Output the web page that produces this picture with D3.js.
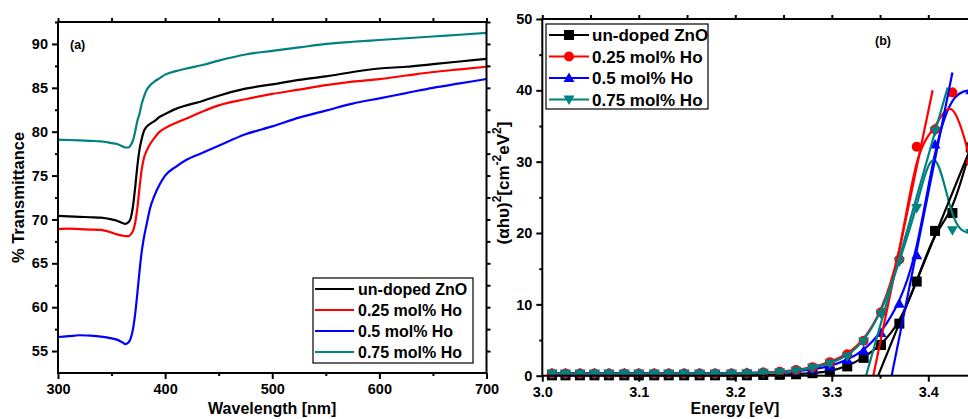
<!DOCTYPE html>
<html>
<head>
<meta charset="utf-8">
<script src="https://cdn.jsdelivr.net/npm/d3@7"></script>
<style>
  html, body { margin: 0; padding: 0; background: #fff; overflow: hidden; }
  svg { display: block; font-family: "Liberation Sans", Arial, sans-serif; font-weight: bold; }
</style>
</head>
<body>
<svg id="chart" width="968" height="419"></svg>
<script>
// ---------- Series names and colours ----------
const seriesNames = ["un-doped ZnO", "0.25 mol% Ho", "0.5 mol% Ho", "0.75 mol% Ho"];
const seriesColors = ["#000000", "#ff0000", "#0000ff", "#008080"];
const markerShapes = ["square", "circle", "triangle-up", "triangle-down"];

// ---------- Panel (a): transmittance spectra ----------
const wavelengths = [300, 310, 320, 330, 340, 350, 355, 360, 363, 366, 368, 370, 372, 374, 376, 378, 380, 383, 386, 390,
                     395, 400, 410, 420, 435, 450, 475, 500, 525, 550, 575, 600, 625, 650, 675, 700];
const transUndoped = [70.4, 70.35, 70.3, 70.25, 70.2, 70.0, 69.85, 69.6, 69.5, 69.7, 70.2, 71.5, 73.6, 76.0, 77.9, 79.1, 80.0, 80.6, 80.9, 81.2,
                      81.7, 82.0, 82.6, 83.0, 83.5, 84.1, 84.9, 85.4, 85.9, 86.3, 86.8, 87.2, 87.4, 87.7, 88.0, 88.3];
const trans025 = [68.9, 68.95, 68.9, 68.85, 68.8, 68.5, 68.3, 68.15, 68.1, 68.1, 68.3, 68.7, 69.6, 71.2, 73.5, 75.6, 76.9, 77.9, 78.6, 79.3,
                  80.0, 80.4, 81.0, 81.5, 82.3, 83.0, 83.7, 84.3, 84.8, 85.3, 85.7, 86.0, 86.4, 86.8, 87.1, 87.4];
const trans05 = [56.6, 56.7, 56.8, 56.75, 56.65, 56.45, 56.3, 56.0, 55.8, 56.0, 56.5, 57.5, 59.2, 61.5, 64.0, 66.2, 67.8, 69.6, 71.3, 72.7,
                 74.0, 75.0, 76.0, 76.8, 77.6, 78.4, 79.7, 80.6, 81.6, 82.4, 83.2, 83.8, 84.4, 85.0, 85.5, 86.0];
const trans075 = [79.1, 79.05, 79.0, 78.95, 78.9, 78.7, 78.6, 78.35, 78.2, 78.2, 78.5, 79.0, 80.0, 81.2, 82.0, 83.1, 83.9, 84.8, 85.3, 85.7,
                  86.1, 86.5, 86.9, 87.2, 87.6, 88.1, 88.8, 89.2, 89.6, 90.0, 90.25, 90.45, 90.65, 90.85, 91.05, 91.25];
const wlTicks = [300, 400, 500, 600, 700];
const wlMinor = [350, 450, 550, 650];
const transTicks = [55, 60, 65, 70, 75, 80, 85, 90];
const transMinor = [57.5, 62.5, 67.5, 72.5, 77.5, 82.5, 87.5, 92.5];

// ---------- Panel (b): Tauc plot ----------
const energies = [3.010, 3.024, 3.039, 3.054, 3.069, 3.085, 3.100, 3.116, 3.131, 3.147, 3.163, 3.179, 3.196,
                  3.212, 3.229, 3.246, 3.263, 3.280, 3.298, 3.316, 3.333, 3.351, 3.370, 3.388, 3.407, 3.425, 3.444];
const taucUndoped = [0.05, 0.05, 0.05, 0.05, 0.05, 0.05, 0.05, 0.05, 0.05, 0.05, 0.05, 0.05, 0.05,
                     0.05, 0.1, 0.12, 0.2, 0.35, 0.6, 1.3, 2.5, 4.3, 7.3, 13.2, 20.3, 22.8, 32.0];
const tauc025 = [0.3, 0.3, 0.3, 0.3, 0.3, 0.3, 0.3, 0.3, 0.3, 0.3, 0.3, 0.3, 0.3,
                 0.35, 0.45, 0.55, 0.8, 1.2, 1.9, 3.0, 4.9, 8.9, 16.3, 32.1, 34.5, 39.7, 30.0];
const tauc05 = [0.35, 0.35, 0.35, 0.35, 0.35, 0.35, 0.35, 0.35, 0.35, 0.35, 0.35, 0.35, 0.35,
                0.4, 0.45, 0.5, 0.6, 0.9, 1.3, 2.2, 3.5, 6.0, 10.1, 16.9, 32.4, 39.7, 40.0];
const tauc075 = [0.3, 0.3, 0.3, 0.3, 0.3, 0.3, 0.3, 0.3, 0.3, 0.3, 0.3, 0.3, 0.3,
                 0.35, 0.4, 0.5, 0.7, 1.1, 1.7, 2.7, 4.8, 8.7, 16.0, 23.5, 34.3, 20.4, 20.0];
// Linear fits of the absorption edge: start energy (on the axis) and end point
const fitStartE = [3.348, 3.343, 3.362, 3.3355];
const fitEndE = [3.460, 3.4045, 3.425, 3.420];
const fitEndV = [37.3, 40.0, 42.5, 40.4];
const eTicks = [3.0, 3.1, 3.2, 3.3, 3.4];
const eMinor = [3.05, 3.15, 3.25, 3.35, 3.45];
const taucTicks = [0, 10, 20, 30, 40, 50];
const taucMinor = [5, 15, 25, 35, 45];

const svg = d3.select("#chart");

// Draws a boxed frame with outward ticks on the left/bottom and short inward ticks on the top/right.
function frame(g, x, y, xT, xM, yT, yM, fmtX, fmtY) {
  const [x0, x1] = x.range();
  const [y0, y1] = y.range(); // y0 bottom, y1 top
  const bottom = g.append("g").attr("transform", `translate(0,${y0})`)
    .call(d3.axisBottom(x).tickValues(xT).tickFormat(fmtX).tickSize(6).tickSizeOuter(0).tickPadding(5));
  const bottomMinor = g.append("g").attr("transform", `translate(0,${y0})`)
    .call(d3.axisBottom(x).tickValues(xM).tickFormat("").tickSize(3).tickSizeOuter(0));
  const left = g.append("g").attr("transform", `translate(${x0},0)`)
    .call(d3.axisLeft(y).tickValues(yT).tickFormat(fmtY).tickSize(6).tickSizeOuter(0).tickPadding(4));
  const leftMinor = g.append("g").attr("transform", `translate(${x0},0)`)
    .call(d3.axisLeft(y).tickValues(yM).tickFormat("").tickSize(3).tickSizeOuter(0));
  const top = g.append("g").attr("transform", `translate(0,${y1})`)
    .call(d3.axisTop(x).tickValues(xT.concat(xM)).tickFormat("").tickSize(4).tickSizeOuter(0));
  const right = g.append("g").attr("transform", `translate(${x1},0)`)
    .call(d3.axisRight(y).tickValues(yT.concat(yM)).tickFormat("").tickSize(4).tickSizeOuter(0));
  [bottom, bottomMinor, left, leftMinor, top, right].forEach(a => {
    a.select(".domain").remove();
    a.selectAll(".tick line").attr("stroke", "#000").attr("stroke-width", 2);
    a.selectAll(".tick text").attr("font-size", 14.5).attr("font-weight", "bold")
      .attr("font-family", "'Liberation Sans', Arial, sans-serif").attr("fill", "#000");
  });
  g.append("rect").attr("x", x0).attr("y", y1).attr("width", x1 - x0).attr("height", y0 - y1)
    .attr("fill", "none").attr("stroke", "#000").attr("stroke-width", 2);
}

// ---------- Panel (a) ----------
const xA = d3.scaleLinear().domain([300, 700]).range([58, 486.5]);
const yA = d3.scaleLinear().domain([52.5, 92.5]).range([373, 22]);
const gA = svg.append("g");
const transSeries = [transUndoped, trans025, trans05, trans075];

const lineA = d3.line().x((d, i) => xA(wavelengths[i])).y(d => yA(d)).curve(d3.curveMonotoneX);
transSeries.forEach((s, k) => {
  gA.append("path").datum(s).attr("d", lineA)
    .attr("fill", "none").attr("stroke", seriesColors[k]).attr("stroke-width", 2.2);
});
frame(gA, xA, yA, wlTicks, wlMinor, transTicks, transMinor, d3.format("d"), d3.format("d"));

gA.append("text").attr("x", 70).attr("y", 49).attr("font-size", 12.5).text("(a)");
gA.append("text").attr("x", d3.mean(xA.range())).attr("y", 414).attr("text-anchor", "middle")
  .attr("font-size", 16).text("Wavelength [nm]");
gA.append("text").attr("transform", `translate(24,${d3.mean(yA.range())}) rotate(-90)`)
  .attr("text-anchor", "middle").attr("font-size", 16.5).text("% Transmittance");

// Legend (a)
const legA = gA.append("g").attr("transform", "translate(313,278)");
legA.append("rect").attr("width", 160).attr("height", 85).attr("fill", "#fff")
  .attr("stroke", "#000").attr("stroke-width", 1.2);
seriesNames.forEach((name, k) => {
  const cy = 11 + k * 21;
  legA.append("line").attr("x1", 2).attr("x2", 41).attr("y1", cy).attr("y2", cy)
    .attr("stroke", seriesColors[k]).attr("stroke-width", 2.2);
  legA.append("text").attr("x", 45).attr("y", cy + 5.5).attr("font-size", 16).text(name);
});

// ---------- Panel (b) ----------
const xB = d3.scaleLinear().domain([3.0, 3.5]).range([542.3, 1024.8]);
const yB = d3.scaleLinear().domain([0, 50]).range([375.7, 19]);
const gB = svg.append("g");
const taucSeries = [taucUndoped, tauc025, tauc05, tauc075];
const drawOrder = [0, 2, 1, 3];

function markerPath(shape, size) {
  const h = size / 2;
  if (shape === "square") return `M${-h},${-h}H${h}V${h}H${-h}Z`;
  if (shape === "circle") return d3.symbol(d3.symbolCircle, Math.PI * h * h)();
  if (shape === "triangle-up") return `M0,${-h * 1.1}L${h * 1.1},${h * 0.8}L${-h * 1.1},${h * 0.8}Z`;
  return `M0,${h * 1.1}L${h * 1.1},${-h * 0.8}L${-h * 1.1},${-h * 0.8}Z`;
}

const lineB = d3.line().x((d, i) => xB(energies[i])).y(d => yB(d)).curve(d3.curveBasis);
drawOrder.forEach(k => {
  const s = taucSeries[k];
  const g = gB.append("g");
  g.append("path").datum(s).attr("d", lineB)
    .attr("fill", "none").attr("stroke", seriesColors[k]).attr("stroke-width", 2.2);
  g.selectAll("path.m").data(s).join("path").attr("class", "m")
    .attr("transform", (d, i) => `translate(${xB(energies[i])},${yB(d)})`)
    .attr("d", markerPath(markerShapes[k], 10)).attr("fill", seriesColors[k]);
});
// Linear extrapolations of the absorption edge
fitStartE.forEach((e0, k) => {
  gB.append("line")
    .attr("x1", xB(e0)).attr("y1", yB(0))
    .attr("x2", xB(fitEndE[k])).attr("y2", yB(fitEndV[k]))
    .attr("stroke", seriesColors[k]).attr("stroke-width", 2.2);
});
frame(gB, xB, yB, eTicks, eMinor, taucTicks, taucMinor, d3.format(".1f"), d3.format("d"));

gB.append("text").attr("x", 883).attr("y", 45).attr("text-anchor", "middle").attr("font-size", 12.5).text("(b)");
gB.append("text").attr("x", 735).attr("y", 414).attr("text-anchor", "middle")
  .attr("font-size", 16).text("Energy [eV]");
const yLab = gB.append("text").attr("transform", `translate(509,183) rotate(-90)`)
  .attr("text-anchor", "middle").attr("font-size", 17);
yLab.append("tspan").text("(αhυ)");
yLab.append("tspan").attr("dy", -8).attr("font-size", 12).text("2");
yLab.append("tspan").attr("dy", 8).text("[cm");
yLab.append("tspan").attr("dy", -8).attr("font-size", 12).text("-2");
yLab.append("tspan").attr("dy", 8).text("eV");
yLab.append("tspan").attr("dy", -8).attr("font-size", 12).text("2");
yLab.append("tspan").attr("dy", 8).text("]");

// Legend (b)
const legB = gB.append("g").attr("transform", "translate(546,24)");
legB.append("rect").attr("width", 162).attr("height", 85).attr("fill", "#fff")
  .attr("stroke", "#000").attr("stroke-width", 1.2);
seriesNames.forEach((name, k) => {
  const cy = 11 + k * 21.5;
  legB.append("line").attr("x1", 3).attr("x2", 43).attr("y1", cy).attr("y2", cy)
    .attr("stroke", seriesColors[k]).attr("stroke-width", 2.2);
  legB.append("path").attr("transform", `translate(23,${cy})`)
    .attr("d", markerPath(markerShapes[k], 10)).attr("fill", seriesColors[k]);
  legB.append("text").attr("x", 46).attr("y", cy + 6).attr("font-size", 17).text(name);
});
</script>
</body>
</html>
